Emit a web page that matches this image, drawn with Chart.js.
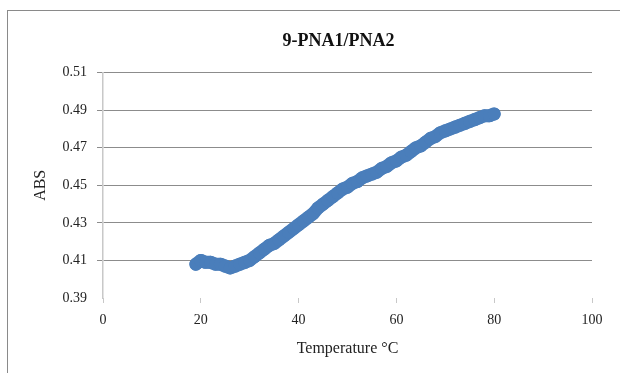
<!DOCTYPE html>
<html>
<head>
<meta charset="utf-8">
<title>9-PNA1/PNA2</title>
<script src="https://cdn.jsdelivr.net/npm/chart.js@4.4.1/dist/chart.umd.min.js"></script>
<style>
    html, body { margin: 0; padding: 0; background: #fff; overflow: hidden; }
    #frame {
        position: absolute;
        left: 7px;
        top: 10px;
        width: 700px;
        height: 500px;
        border: 1px solid #8a8a8a;
    }
    #wrap { position: absolute; left: 0; top: 0; width: 620px; height: 373px; }
</style>
</head>
<body>
<div id="frame"></div>
<div id="wrap"><canvas id="meltChart" width="620" height="373"></canvas></div>
<script>
// Melting curve, absorbance vs temperature
const temperatures = [
    19, 20, 21, 22, 23, 24, 25, 26, 27, 28, 29, 30,
    31, 32, 33, 34, 35, 36, 37, 38, 39, 40,
    41, 42, 43, 44, 45, 46, 47, 48, 49, 50,
    51, 52, 53, 54, 55, 56, 57, 58, 59, 60,
    61, 62, 63, 64, 65, 66, 67, 68, 69, 70,
    71, 72, 73, 74, 75, 76, 77, 78, 79, 80
];
const absValues = [
    0.408, 0.410, 0.409, 0.409, 0.408, 0.408, 0.407, 0.406, 0.407, 0.408, 0.409, 0.410,
    0.412, 0.414, 0.416, 0.418, 0.419, 0.421, 0.423, 0.425, 0.427, 0.429,
    0.431, 0.433, 0.435, 0.438, 0.440, 0.442, 0.444, 0.446, 0.448, 0.449,
    0.451, 0.452, 0.454, 0.455, 0.456, 0.457, 0.459, 0.460, 0.462, 0.463,
    0.465, 0.466, 0.468, 0.470, 0.471, 0.473, 0.475, 0.476, 0.478, 0.479,
    0.480, 0.481, 0.482, 0.483, 0.484, 0.485, 0.486, 0.487, 0.487, 0.488
];
const xTicks = [0, 20, 40, 60, 80, 100];
const yTicks = [0.39, 0.41, 0.43, 0.45, 0.47, 0.49, 0.51];

Chart.defaults.font.family = "'Liberation Serif', 'Times New Roman', serif";
Chart.defaults.color = '#222';

const points = temperatures.map((t, i) => ({ x: t, y: absValues[i] }));

new Chart(document.getElementById('meltChart'), {
    type: 'scatter',
    data: {
        datasets: [{
            label: 'ABS',
            data: points,
            showLine: true,
            borderColor: '#4a7ebb',
            backgroundColor: '#4a7ebb',
            borderWidth: 13,
            borderCapStyle: 'round',
            borderJoinStyle: 'round',
            pointRadius: 6.5,
            pointBorderWidth: 0
        }]
    },
    options: {
        responsive: false,
        animation: false,
        layout: { padding: { left: 8, right: 28, top: 0, bottom: 0 } },
        plugins: {
            legend: { display: false },
            tooltip: { enabled: false },
            title: {
                display: true,
                // trailing spaces nudge the centred title a little to the left
                text: '9-PNA1/PNA2    ',
                fullSize: false,
                color: '#111',
                font: { size: 18, weight: 'bold' },
                padding: { top: 31, bottom: 20 }
            }
        },
        scales: {
            x: {
                type: 'linear',
                min: xTicks[0],
                max: xTicks[xTicks.length - 1],
                afterBuildTicks: s => { s.ticks = xTicks.map(v => ({ value: v })); },
                afterFit: s => { s.height = 75; },
                border: { display: false },
                grid: {
                    drawOnChartArea: false,
                    tickLength: 5,
                    color: '#c8c8c8'
                },
                ticks: { font: { size: 14 }, padding: 9, maxRotation: 0 },
                title: {
                    display: true,
                    text: 'Temperature °C',
                    font: { size: 16 },
                    padding: { top: 0, bottom: 15 }
                }
            },
            y: {
                min: yTicks[0],
                max: yTicks[yTicks.length - 1],
                afterBuildTicks: s => { s.ticks = yTicks.map(v => ({ value: v })); },
                afterFit: s => { s.width = 95; },
                border: { display: true, color: '#c8c8c8', width: 1.5 },
                grid: {
                    tickLength: 6,
                    color: ctx => Math.abs(ctx.tick.value - yTicks[0]) < 1e-6 ? 'rgba(0,0,0,0)' : '#8c8c8c'
                },
                ticks: {
                    font: { size: 14 },
                    padding: 10,
                    callback: v => v.toFixed(2)
                },
                title: {
                    display: true,
                    text: 'ABS',
                    font: { size: 16 },
                    padding: { top: 23, bottom: 0 }
                }
            }
        }
    }
});
</script>
</body>
</html>
